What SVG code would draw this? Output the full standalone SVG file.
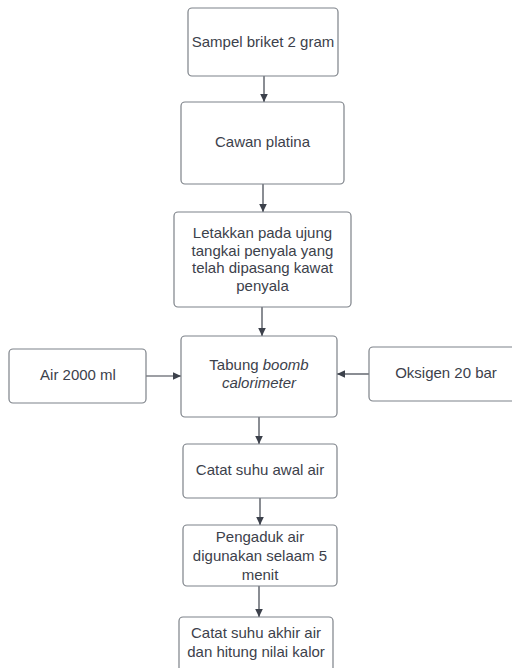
<svg xmlns="http://www.w3.org/2000/svg" width="512" height="668" viewBox="0 0 512 668">
<style>
.box{fill:#ffffff;stroke:#7d8289;stroke-width:1.2}
.t{font-family:"Liberation Sans",Arial,sans-serif;font-size:15px;fill:#3c414b;text-anchor:middle}
.c{stroke:#3c414b;stroke-width:1.2;fill:none;marker-end:url(#ah)}
</style>
<defs>
<marker id="ah" markerWidth="10" markerHeight="10" refX="9" refY="5" orient="auto" markerUnits="userSpaceOnUse">
<path d="M1,1.2 L9,5 L1,8.8 Z" fill="#3c414b"/>
</marker>
</defs>
<rect width="512" height="668" fill="#ffffff"/>
<g id="connectors">
<line class="c" x1="264" y1="76" x2="264" y2="102"/>
<line class="c" x1="263" y1="184" x2="263" y2="212"/>
<line class="c" x1="262" y1="307" x2="262" y2="336"/>
<line class="c" x1="259" y1="417" x2="259" y2="444"/>
<line class="c" x1="260" y1="498" x2="260" y2="525"/>
<line class="c" x1="259" y1="586" x2="259" y2="617"/>
<line class="c" x1="146" y1="376" x2="181" y2="376"/>
<line class="c" x1="369" y1="374" x2="337" y2="374"/>
</g>
<g id="n1"><rect class="box" x="188" y="8" width="150" height="68" rx="4"/><text class="t" x="263" y="47">Sampel briket 2 gram</text></g>
<g id="n2"><rect class="box" x="181" y="102" width="163" height="82" rx="4"/><text class="t" x="262.5" y="147">Cawan platina</text></g>
<g id="n3"><rect class="box" x="174" y="212" width="177" height="95" rx="4"/>
<text class="t" x="262.5" y="238">Letakkan pada ujung</text>
<text class="t" x="262.5" y="255.5">tangkai penyala yang</text>
<text class="t" x="262.5" y="273">telah dipasang kawat</text>
<text class="t" x="262.5" y="290.5">penyala</text></g>
<g id="n4"><rect class="box" x="181" y="336" width="156" height="81" rx="4"/>
<text class="t" x="259" y="370">Tabung <tspan font-style="italic">boomb</tspan></text>
<text class="t" x="259" y="388" font-style="italic">calorimeter</text></g>
<g id="n5"><rect class="box" x="9" y="349" width="137" height="54" rx="4"/><text class="t" x="78" y="380">Air 2000 ml</text></g>
<g id="n6"><rect class="box" x="369" y="347" width="154" height="54" rx="4"/><text class="t" x="446" y="378">Oksigen 20 bar</text></g>
<g id="n7"><rect class="box" x="183" y="444" width="154" height="54" rx="4"/><text class="t" x="260" y="475">Catat suhu awal air</text></g>
<g id="n8"><rect class="box" x="183" y="525" width="154" height="61" rx="4"/>
<text class="t" x="260" y="542">Pengaduk air</text>
<text class="t" x="260" y="561">digunakan selaam 5</text>
<text class="t" x="260" y="580">menit</text></g>
<g id="n9"><rect class="box" x="179" y="617" width="154" height="70" rx="4"/>
<text class="t" x="256" y="638">Catat suhu akhir air</text>
<text class="t" x="256" y="657">dan hitung nilai kalor</text></g>
</svg>
